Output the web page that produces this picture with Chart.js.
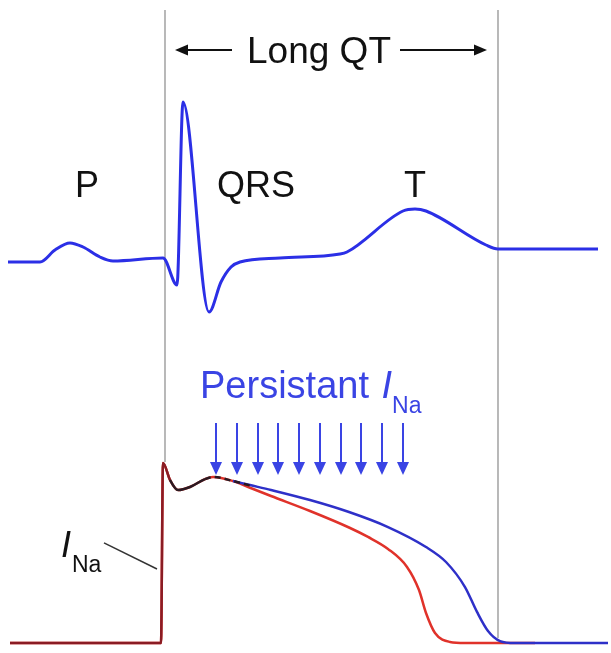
<!DOCTYPE html>
<html>
<head>
<meta charset="utf-8">
<script src="https://cdn.jsdelivr.net/npm/chart.js@4"></script>
<style>
  html, body { margin: 0; padding: 0; background: #fff; }
  #ecgChart { display: block; }
</style>
</head>
<body>
<canvas id="ecgChart" width="611" height="653"></canvas>
<script>
// time in ms relative to QRS onset
const ecgTime = [-157, -125, -110, -95, -82, -65, -52, -2, 12, 18, 44, 56, 66, 75, 115, 175, 182, 238, 250, 261, 321, 333, 433];
const ecgMv = [0, 0, 0.12, 0.19, 0.15, 0.05, 0.01, 0.04, -0.23, 1.6, -0.5, -0.2, -0.05, 0, 0.04, 0.08, 0.1, 0.51, 0.53, 0.51, 0.17, 0.13, 0.13];

// action potential, normal (red)
const apNormalTime = [-155, -4, -2, 5, 13, 25, 40, 48, 68, 85, 106, 145, 184, 203, 223, 242, 254, 261, 270, 285, 300, 370];
const apNormalMv = [-85, -85, 35, 23.7, 17, 19, 24.3, 25.7, 23, 18.5, 13, 3, -8, -14.3, -22.3, -34.3, -49.7, -65, -78.3, -84.3, -85, -85];

// action potential with persistent INa (blue)
const apLongTime = [68, 85, 106, 145, 184, 223, 261, 281, 300, 312, 323, 335, 350, 443];
const apLongMv = [23, 20.3, 17, 10.3, 2.3, -7.7, -21, -31, -47.7, -64.3, -77, -83.7, -85, -85];

// shared early part (dark)
const apEarlyTime = [-155, -4, -2, 5, 13, 25, 40, 48, 68, 85];
const apEarlyMv = [-85, -85, 35, 23.7, 17, 19, 24.3, 25.7, 23, 20];

const waveLabels = ["P", "QRS", "T"];
const waveLabelTime = [-78, 91, 250];
const naArrowTime = [51, 72, 93, 113, 134, 155, 176, 196, 217, 238];
const qtStart = 0;
const qtEnd = 333;

const FONT = '"Liberation Sans", Arial, Helvetica, sans-serif';

function pts(xs, ys) {
    return xs.map((x, i) => ({ x: x, y: ys[i] }));
}

function arrow(ctx, x1, y1, x2, y2, len, half, color, width) {
    const a = Math.atan2(y2 - y1, x2 - x1);
    const bx = x2 - len * Math.cos(a);
    const by = y2 - len * Math.sin(a);
    ctx.strokeStyle = color;
    ctx.fillStyle = color;
    ctx.lineWidth = width;
    ctx.beginPath();
    ctx.moveTo(x1, y1);
    ctx.lineTo(bx, by);
    ctx.stroke();
    ctx.beginPath();
    ctx.moveTo(x2, y2);
    ctx.lineTo(bx + half * Math.sin(a), by - half * Math.cos(a));
    ctx.lineTo(bx - half * Math.sin(a), by + half * Math.cos(a));
    ctx.closePath();
    ctx.fill();
}

const overlay = {
    id: "overlay",
    afterDatasetsDraw(chart) {
        const { ctx } = chart;
        const x = chart.scales.x;
        const yE = chart.scales.yEcg;
        const yA = chart.scales.yAp;
        ctx.save();

        // P, QRS, T
        ctx.fillStyle = "#111";
        ctx.font = "36px " + FONT;
        ctx.textAlign = "center";
        ctx.textBaseline = "alphabetic";
        waveLabels.forEach((s, i) => {
            ctx.fillText(s, x.getPixelForValue(waveLabelTime[i]), yE.getPixelForValue(0.65));
        });

        // Long QT
        ctx.font = "37px " + FONT;
        ctx.fillText("Long QT", x.getPixelForValue(154), yE.getPixelForValue(1.99));
        const ay = yE.getPixelForValue(2.12);
        arrow(ctx, x.getPixelForValue(67), ay, x.getPixelForValue(qtStart + 10), ay, 13, 5.5, "#111", 2);
        arrow(ctx, x.getPixelForValue(235), ay, x.getPixelForValue(qtEnd - 11), ay, 13, 5.5, "#111", 2);

        // Persistant I_Na
        const blue = "#3a44e4";
        ctx.fillStyle = blue;
        ctx.textAlign = "left";
        let tx = x.getPixelForValue(35);
        const ty = yA.getPixelForValue(78.3);
        ctx.font = "38px " + FONT;
        ctx.fillText("Persistant ", tx, ty);
        tx += ctx.measureText("Persistant ").width + 2;
        ctx.font = "italic 38px " + FONT;
        ctx.fillText("I", tx, ty);
        tx += ctx.measureText("I").width;
        ctx.font = "23px " + FONT;
        ctx.fillText("Na", tx, yA.getPixelForValue(68));

        naArrowTime.forEach(t => {
            const px = x.getPixelForValue(t);
            arrow(ctx, px, yA.getPixelForValue(61.7), px, yA.getPixelForValue(27), 13, 6, blue, 2);
        });

        // I_Na label with pointer
        ctx.fillStyle = "#111";
        ctx.font = "italic 36px " + FONT;
        ctx.fillText("I", x.getPixelForValue(-104), yA.getPixelForValue(-27.7));
        ctx.font = "23px " + FONT;
        ctx.fillText("Na", x.getPixelForValue(-93), yA.getPixelForValue(-38));
        ctx.strokeStyle = "#333";
        ctx.lineWidth = 1.5;
        ctx.beginPath();
        ctx.moveTo(x.getPixelForValue(-61), yA.getPixelForValue(-18.3));
        ctx.lineTo(x.getPixelForValue(-8), yA.getPixelForValue(-35.7));
        ctx.stroke();

        ctx.restore();
    }
};

const guide = { borderColor: "#8a8a8a", borderWidth: 1.2, pointRadius: 0, yAxisID: "yAp", order: 10 };

new Chart(document.getElementById("ecgChart"), {
    type: "line",
    data: {
        datasets: [
            Object.assign({ label: "QT start", data: pts([qtStart, qtStart], [337, 35.7]) }, guide),
            Object.assign({ label: "QT end", data: pts([qtEnd, qtEnd], [337, -81.7]) }, guide),
            {
                label: "ECG",
                data: pts(ecgTime, ecgMv),
                yAxisID: "yEcg",
                borderColor: "#2b2fe6",
                borderWidth: 3,
                pointRadius: 0,
                cubicInterpolationMode: "monotone",
                order: 4
            },
            {
                label: "AP normal",
                data: pts(apNormalTime, apNormalMv),
                yAxisID: "yAp",
                borderColor: "#e0322a",
                borderWidth: 2.5,
                pointRadius: 0,
                cubicInterpolationMode: "monotone",
                order: 3
            },
            {
                label: "AP persistent INa",
                data: pts(apLongTime, apLongMv),
                yAxisID: "yAp",
                borderColor: "#2e30c8",
                borderWidth: 2.5,
                pointRadius: 0,
                cubicInterpolationMode: "monotone",
                order: 2
            },
            {
                label: "AP early",
                data: pts(apEarlyTime, apEarlyMv),
                yAxisID: "yAp",
                borderColor: "#7a1a22",
                borderWidth: 2.5,
                pointRadius: 0,
                cubicInterpolationMode: "monotone",
                order: 1,
                segment: {
                    borderColor: c => c.p0.parsed.x < 0 ? "#8a1c24" : "#2a1a22",
                    borderDash: c => c.p0.parsed.x > 30 ? [6, 4] : undefined
                }
            }
        ]
    },
    options: {
        responsive: false,
        animation: false,
        layout: { padding: 0 },
        plugins: { legend: { display: false }, tooltip: { enabled: false } },
        scales: {
            x: { type: "linear", min: -165, max: 446, display: false },
            yEcg: { type: "linear", min: -3.91, max: 2.62, display: false },
            yAp: { type: "linear", min: -91.67, max: 343.67, display: false }
        }
    },
    plugins: [overlay]
});
</script>
</body>
</html>
